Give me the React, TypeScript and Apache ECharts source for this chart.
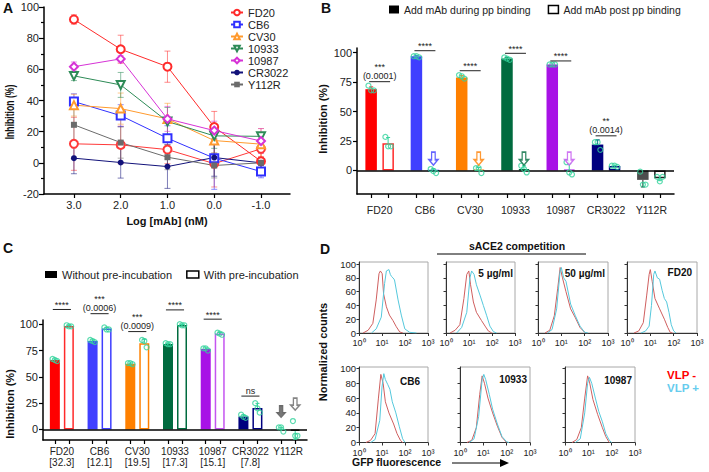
import React, { useEffect, useRef } from 'react';
import * as echarts from 'echarts';

const FONT = '"Liberation Sans", Arial, Helvetica, sans-serif';

// ---------- Panel A data ----------
const logConc = [3, 2, 1, 0, -1];
const aTicks = [3, 2, 1, 0, -1];
const aNames = ['FD20', 'CB6', 'CV30', '10933', '10987', 'CR3022', 'Y112R'];
const aFD20 = [92, 72.9, 61.7, 23, 1];
const aFD20Err = [3, 9, 10, 10, 6];
const aCB6 = [39.3, 30.3, 15.8, 3, -5.6];
const aCB6Err = [5, 7, 8, 20, 4];
const aCV30 = [37, 34.8, 28.2, 14.3, 12];
const aCV30Err = [7, 10, 10, 8, 10];
const a10933 = [55.8, 50, 26.5, 17.3, 17];
const a10933Err = [3, 8, 9, 8, 2];
const a10987 = [61.7, 66.7, 28.2, 20.7, 14];
const a10987Err = [3, 2, 8, 6, 8];
const aCR3022 = [3, 0.2, -2.4, 3.4, 0];
const aCR3022Err = [10, 10, 14, 12, 3];
const aY112R = [24.4, 13, 3.6, -1.7, 0];
const aY112RErr = [10, 10, 8, 8, 3];
const aFD20b = [12.2, 11.5, 8.5, -0.5, 9];
const aFD20bErr = [17, 12, 9, 15, 5];

// ---------- Panel B data ----------
const bCats = ['FD20', 'CB6', 'CV30', '10933', '10987', 'CR3022', 'Y112R'];
const bDuring = [69, 97, 79, 95, 90, 22, -8];
const bPost = [23, 0, 0.5, 1, 0.7, 3.7, -6.7];
const bDuringSd = [2, 0.6, 1.5, 1, 0.3, 4, 6];
const bPostSd = [5, 1.5, 2, 3, 5, 0.6, 2];
const bDuringPts = [[72, 68, 68], [97, 97, 96], [81, 80, 78], [96, 95, 94], [90, 90, 90], [24, 24, 17.5], [-1, -12, -12]];
const bPostPts = [[28.5, 20.5, 20.5], [1.2, -0.5, -2.2], [2, 2, -2.2], [4, 1.2, -1.7], [7, -1.7, -3.4], [4, 4, 3], [-5.5, -9.3, -5.5]];
const bSigGroups = [0, 1, 2, 3, 4, 5];
const bSigLevels = [75.4, 101.7, 84.7, 99.5, 93, 29.4];
const bSigStars = ['***', '****', '****', '****', '****', '**'];
const bSigP = ['(0.0001)', '', '', '', '', '(0.0014)'];
const bArrowGroups = [1, 2, 3, 4];
const bArrowLevel = [10, 10, 10, 10];

// ---------- Panel C data ----------
const cCats = ['FD20', 'CB6', 'CV30', '10933', '10987', 'CR3022', 'Y112R'];
const cIC50 = ['[32.3]', '[12.1]', '[19.5]', '[17.3]', '[15.1]', '[7.8]', ''];
const cWithout = [66, 84, 62.5, 81.3, 76.5, 12.3, 0];
const cWith = [98.4, 96, 82, 99.3, 91.2, 20.3, -1.3];
const cWithoutSd = [1, 1, 0.5, 0.5, 1, 1.5, 2];
const cWithSd = [0.5, 1, 3.8, 0.5, 1, 4.5, 8];
const cWithoutPts = [[67, 66, 65], [85, 84, 83], [63, 63, 62], [82, 81, 81], [77, 77, 75], [14, 12, 11], [2, 2, -2]];
const cWithPts = [[99, 98, 98], [97, 95, 95], [85, 84, 78], [100, 99, 99], [92, 91, 90], [25, 20, 16], [8, -6, -6]];
const cSigGroups = [0, 1, 2, 3, 4, 5];
const cSigLevels = [114, 110, 93, 113.6, 104.8, 31.7];
const cSigStars = ['****', '***', '***', '****', '****', 'ns'];
const cSigP = ['', '(0.0006)', '(0.0009)', '', '', ''];

// ---------- Panel D data (fluorescence, normalized counts) ----------
const histCtrlNeg = [[1.5, 0], [2.5, 4], [4, 14], [5.6, 48], [7.4, 86], [8.5, 90], [10.2, 86], [11.7, 57], [15.5, 38], [21, 26], [30, 18], [42, 9], [59, 1.5], [81, 0]];
const histCtrlPos = [[3.5, 0], [5.6, 6], [9.3, 23], [13, 72], [15.5, 90], [20, 92], [23, 85], [26, 82], [30, 80], [35, 77], [50, 48], [69, 26], [98, 6], [158, 1], [316, 0]];
const hist5Neg = [[1.5, 0], [2.5, 4], [4, 12], [6, 50], [8, 85], [9.8, 90], [11.7, 70], [15.5, 45], [21, 30], [35, 18], [50, 10], [69, 3], [98, 0]];
const hist5Pos = [[2.9, 0], [4.8, 8], [8, 30], [11, 80], [13, 90], [16.6, 85], [21, 70], [30, 55], [42, 40], [59, 25], [81, 10], [115, 2], [158, 0]];
const hist50Neg = [[2, 0], [3.2, 4], [5, 25], [7, 65], [8.9, 95], [11.2, 80], [15.8, 60], [25, 35], [40, 22], [63, 8], [100, 1], [126, 0]];
const hist50Pos = [[2.5, 0], [4, 5], [6.3, 35], [8.9, 90], [10, 95], [12.6, 80], [15.8, 75], [25, 42], [40, 25], [63, 10], [100, 1], [141, 0]];
const histFD20Neg = [[2, 0], [3.2, 3], [5, 15], [7, 55], [8.9, 85], [10, 92], [12, 75], [15.8, 50], [25, 35], [40, 20], [56, 8], [71, 1], [89, 0]];
const histFD20Pos = [[4, 0], [6.3, 3], [8.9, 10], [11.2, 40], [14, 85], [15.8, 90], [20, 80], [25, 78], [32, 62], [40, 50], [50, 45], [63, 30], [79, 12], [100, 3], [126, 0]];
const histCB6Neg = [[2, 0], [3.2, 3], [5, 12], [7, 60], [8.9, 92], [11.2, 80], [14, 55], [20, 40], [32, 25], [45, 12], [63, 3], [79, 0]];
const histCB6Pos = [[3.2, 0], [5, 4], [8, 30], [10, 75], [12, 93], [14, 85], [18, 78], [22, 72], [28, 55], [40, 40], [56, 22], [79, 5], [100, 0]];
const hist10933Neg = [[2, 0], [3.2, 3], [5, 20], [7, 65], [8.9, 90], [11.2, 80], [15.8, 60], [25, 40], [40, 22], [63, 7], [100, 0]];
const hist10933Pos = [[2.5, 0], [4, 5], [6.3, 35], [8.9, 85], [10.5, 92], [12.6, 85], [18, 65], [25, 45], [40, 25], [63, 8], [100, 1], [126, 0]];
const hist10987Neg = [[2, 0], [3.2, 4], [5, 20], [7, 60], [9.3, 90], [11.2, 82], [15.8, 58], [25, 38], [40, 20], [56, 8], [79, 0]];
const hist10987Pos = [[2.8, 0], [4.5, 5], [7, 40], [9.3, 80], [11.2, 88], [14, 80], [20, 60], [28, 42], [40, 28], [56, 12], [79, 3], [100, 0]];
const histTicks = [0, 20, 40, 60, 80, 100];

// ---------- styles ----------
const aColors = ['#ff2b2b', '#3030ff', '#ff9a2e', '#2e8b57', '#d633d6', '#12127a', '#6b6b6b'];
const aSymbols = ['emptyCircle', 'emptyRect', 'emptyTriangle', 'emptyTriangle', 'emptyDiamond', 'circle', 'rect'];
const aRotate = [0, 0, 0, 180, 0, 0, 0];
const barFill = ['#ff0000', '#3f3fff', '#ff8000', '#006b3f', '#a812e6', '#00007f', '#4d4d4d'];
const barOutline = ['#ff2a2a', '#3f3fff', '#ff8000', '#006b3f', '#c455f0', '#00007f', '#222222'];
const TEAL = '#33d39c';
const RED = '#cf5f5f';
const CYAN = '#55c8dc';
const SUP = ['\u2070', '\u00b9', '\u00b2', '\u00b3'];
const PAIR = 0.187;
const dotOffsets = [-0.06, 0, 0.06];
const ARROW = 'path://M3,0L7,0L7,7L10,7L5,12L0,7L3,7Z';

function errRenderA(color: string) {
  return (params: any, api: any) => {
    const x = api.value(0), y = api.value(1), e = api.value(2);
    const t = api.coord([x, y + e]);
    const b = api.coord([x, y - e]);
    const st = { stroke: color, lineWidth: 1, opacity: 0.55 };
    return {
      type: 'group',
      children: [
        { type: 'line', shape: { x1: t[0], y1: t[1], x2: b[0], y2: b[1] }, style: st },
        { type: 'line', shape: { x1: t[0] - 3, y1: t[1], x2: t[0] + 3, y2: t[1] }, style: st },
        { type: 'line', shape: { x1: b[0] - 3, y1: b[1], x2: b[0] + 3, y2: b[1] }, style: st },
      ],
    };
  };
}

function sdRender(colors: string[]) {
  return (params: any, api: any) => {
    const x = api.value(0), m = api.value(1), sd = api.value(2);
    const idx = params.dataIndex;
    const dir = m < 0 ? -1 : 1;
    const a = api.coord([x, m]);
    const b = api.coord([x, m + dir * sd]);
    const st = { stroke: colors[idx], lineWidth: 1 };
    return {
      type: 'group',
      children: [
        { type: 'line', shape: { x1: a[0], y1: a[1], x2: b[0], y2: b[1] }, style: st },
        { type: 'line', shape: { x1: b[0] - 2, y1: b[1], x2: b[0] + 2, y2: b[1] }, style: st },
      ],
    };
  };
}

function sigRender(stars: string[], ps: string[]) {
  return (params: any, api: any) => {
    const g = api.value(0), lvl = api.value(1);
    const k = params.dataIndex;
    const a = api.coord([g - PAIR, lvl]);
    const b = api.coord([g + PAIR, lvl]);
    const cx = (a[0] + b[0]) / 2;
    const ts = (text: string, y: number) => ({
      type: 'text',
      style: {
        text, x: cx, y, align: 'center', textAlign: 'center', verticalAlign: 'bottom', textVerticalAlign: 'bottom',
        fontSize: 9, fontFamily: FONT, fill: '#222',
      },
    });
    const children: any[] = [
      { type: 'line', shape: { x1: a[0] - 2, y1: a[1], x2: b[0] + 2, y2: a[1] }, style: { stroke: '#222', lineWidth: 1 } },
    ];
    if (ps[k]) {
      children.push(ts(ps[k], a[1] - 1));
      children.push(ts(stars[k], a[1] - 10));
    } else {
      children.push(ts(stars[k], a[1] - (stars[k] === 'ns' ? 1 : 0)));
    }
    return { type: 'group', children };
  };
}

function buildOption() {
  const grids: any[] = [
    { left: 44, top: 7, width: 246, height: 187 },
    { left: 357, top: 48, width: 317, height: 146 },
    { left: 43, top: 320, width: 264, height: 120 },
  ];
  const histBoxes = [
    [359, 262, 69, 71], [446, 262, 69, 71], [538, 262, 70, 71], [627, 262, 70, 71],
    [359, 367, 69, 75.5], [460, 367, 70, 75.5], [565, 367, 70, 75.5],
  ];
  histBoxes.forEach((b) => grids.push({ left: b[0], top: b[1], width: b[2], height: b[3], show: true, borderColor: '#a8a8a8', borderWidth: 1 }));
  grids.forEach((g) => { g.containLabel = false; g.outerBoundsMode = 'none'; });

  const blackLine = { onZero: false, lineStyle: { color: '#000', width: 1.5 } };
  const tickStyle = { color: '#000', width: 1.2 };
  const catIdx = bCats.map((_, i) => i);
  const pairTicks = bCats.flatMap((_, i) => [i - PAIR, i + PAIR]);
  const lbl = { color: '#222', fontFamily: FONT };

  const xAxis: any[] = [
    {
      gridIndex: 0, type: 'value', inverse: true, min: -1.62, max: 3.64, splitLine: { show: false },
      axisLine: blackLine, axisTick: { customValues: aTicks, length: 4, lineStyle: tickStyle },
      axisLabel: { ...lbl, customValues: aTicks, formatter: (v: number) => v.toFixed(1), fontSize: 11, margin: 5 },
      name: 'Log [mAb] (nM)', nameLocation: 'middle', nameGap: 21,
      nameTextStyle: { fontWeight: 'bold', fontSize: 11, color: '#111', fontFamily: FONT },
    },
    {
      gridIndex: 1, type: 'value', position: 'bottom', min: -0.5, max: 6.5, splitLine: { show: false },
      axisLine: blackLine, axisTick: { customValues: pairTicks, length: 4, lineStyle: tickStyle },
      axisLabel: { ...lbl, customValues: catIdx, formatter: (v: number) => bCats[Math.round(v)], fontSize: 10.5, margin: 10 },
    },
    { gridIndex: 1, type: 'category', position: 'top', data: bCats, show: false },
    {
      gridIndex: 2, type: 'value', position: 'bottom', min: -0.5, max: 6.5, splitLine: { show: false },
      axisLine: blackLine, axisTick: { customValues: pairTicks, length: 4, lineStyle: tickStyle },
      axisLabel: {
        ...lbl, customValues: catIdx, fontSize: 10, lineHeight: 11, margin: 6,
        formatter: (v: number) => { const i = Math.round(v); return cCats[i] + (cIC50[i] ? '\n' + cIC50[i] : ''); },
      },
    },
    { gridIndex: 2, type: 'category', position: 'top', data: cCats, show: false },
  ];
  const yAxis: any[] = [
    {
      gridIndex: 0, type: 'value', min: -20, max: 100, interval: 20, splitLine: { show: false },
      axisLine: blackLine, axisTick: { length: 5, lineStyle: tickStyle },
      minorTick: { show: true, splitNumber: 2, length: 3, lineStyle: tickStyle },
      axisLabel: { ...lbl, fontSize: 11, margin: 5 },
    },
    {
      gridIndex: 1, type: 'value', min: -20, max: 104, splitLine: { show: false },
      axisLine: blackLine, axisTick: { customValues: [0, 25, 50, 75, 100], length: 4, lineStyle: tickStyle },
      axisLabel: { ...lbl, customValues: [0, 25, 50, 75, 100], fontSize: 11, margin: 5 },
    },
    {
      gridIndex: 2, type: 'value', min: -10, max: 104, splitLine: { show: false },
      axisLine: blackLine, axisTick: { customValues: [0, 25, 50, 75, 100], length: 4, lineStyle: tickStyle },
      axisLabel: { ...lbl, customValues: [0, 25, 50, 75, 100], fontSize: 11, margin: 5 },
    },
  ];
  histBoxes.forEach((_, k) => {
    xAxis.push({
      gridIndex: 3 + k, type: 'log', logBase: 10, min: 1, max: 1000, splitLine: { show: false },
      axisLine: { onZero: false, lineStyle: { color: '#333', width: 1 } },
      axisTick: { length: 3, lineStyle: { color: '#333' } }, minorTick: { show: false },
      axisLabel: { ...lbl, fontSize: 9, margin: 5.5, formatter: (v: number) => '10' + SUP[Math.round(Math.log10(v))] },
    });
    yAxis.push({
      gridIndex: 3 + k, type: 'value', min: 0, max: k < 4 ? 103 : 102, splitLine: { show: false },
      axisLine: { onZero: false, lineStyle: { color: '#333', width: 1 } },
      axisTick: { customValues: histTicks, length: 2.5, lineStyle: { color: '#333' } },
      axisLabel: { ...lbl, show: k === 0 || k === 4, customValues: histTicks, fontSize: 9.5, margin: 3 },
    });
  });

  const series: any[] = [];

  // Panel A
  const aVals = [aFD20, aCB6, aCV30, a10933, a10987, aCR3022, aY112R];
  const aErrs = [aFD20Err, aCB6Err, aCV30Err, a10933Err, a10987Err, aCR3022Err, aY112RErr];
  const addA = (name: string, vals: number[], errs: number[], color: string, symbol: string, rot: number) => {
    series.push({
      type: 'custom', xAxisIndex: 0, yAxisIndex: 0, z: 1, silent: true,
      renderItem: errRenderA(color), data: logConc.map((x, i) => [x, vals[i], errs[i]]),
    });
    series.push({
      type: 'line', name, xAxisIndex: 0, yAxisIndex: 0, z: 3,
      data: logConc.map((x, i) => [x, vals[i]]),
      symbol, symbolRotate: rot, symbolSize: symbol.startsWith('empty') ? 8 : 6, showSymbol: true,
      itemStyle: { color, borderWidth: 1.2 }, lineStyle: { color, width: 1 },
    });
  };
  addA('FD20 (low)', aFD20b, aFD20bErr, '#ff3a3a', 'emptyCircle', 0);
  aNames.forEach((n, i) => addA(n, aVals[i], aErrs[i], aColors[i], aSymbols[i], aRotate[i]));

  // Panel B
  const markZero = {
    silent: true, symbol: 'none', label: { show: false },
    lineStyle: { color: '#000', width: 1.5, type: 'solid' }, data: [{ yAxis: 0 }],
  };
  series.push({
    type: 'bar', name: 'Add mAb during pp binding', xAxisIndex: 2, yAxisIndex: 1, barWidth: 11.5, barGap: '48%',
    itemStyle: { color: '#000' },
    data: bDuring.map((v, i) => ({ value: v, itemStyle: { color: barFill[i] } })),
    markLine: markZero,
  });
  series.push({
    type: 'bar', name: 'Add mAb post pp binding', xAxisIndex: 2, yAxisIndex: 1, barWidth: 11.5, barGap: '48%',
    itemStyle: { color: '#fff', borderColor: '#000', borderWidth: 1.5 },
    data: bPost.map((v, i) => ({ value: v, itemStyle: { color: '#fff', borderColor: barOutline[i], borderWidth: 1.5 } })),
  });
  series.push({
    type: 'custom', xAxisIndex: 1, yAxisIndex: 1, z: 4, silent: true, renderItem: sdRender(barOutline),
    data: bDuring.map((v, i) => [i - PAIR, v, bDuringSd[i]]),
  });
  series.push({
    type: 'custom', xAxisIndex: 1, yAxisIndex: 1, z: 4, silent: true, renderItem: sdRender(barOutline.map(() => TEAL)),
    data: bPost.map((v, i) => [i + PAIR, v, bPostSd[i]]),
  });
  const dotSeries = (xi: number, yi: number, pts: number[][], side: number) => ({
    type: 'scatter', xAxisIndex: xi, yAxisIndex: yi, z: 5, symbol: 'circle', symbolSize: 5,
    itemStyle: { color: 'rgba(0,0,0,0)', borderColor: TEAL, borderWidth: 1.2 },
    data: pts.flatMap((p, i) => p.map((v, j) => [i + side * PAIR + dotOffsets[j], v])),
  });
  series.push(dotSeries(1, 1, bDuringPts, -1));
  series.push(dotSeries(1, 1, bPostPts, 1));
  series.push({
    type: 'custom', xAxisIndex: 1, yAxisIndex: 1, z: 6, silent: true, renderItem: sigRender(bSigStars, bSigP),
    data: bSigGroups.map((g, k) => [g, bSigLevels[k]]),
  });
  series.push({
    type: 'scatter', xAxisIndex: 1, yAxisIndex: 1, z: 6, symbol: ARROW, symbolSize: [9, 13],
    data: bArrowGroups.map((g, k) => ({
      value: [g + PAIR, bArrowLevel[k]],
      itemStyle: { color: '#fff', borderColor: barOutline[g], borderWidth: 1.5 },
    })),
  });

  // Panel C
  series.push({
    type: 'bar', name: 'Without pre-incubation', xAxisIndex: 4, yAxisIndex: 2, barWidth: 10, barGap: '40%',
    itemStyle: { color: '#000' },
    data: cWithout.map((v, i) => ({ value: v, itemStyle: { color: barFill[i] } })),
    markLine: markZero,
  });
  series.push({
    type: 'bar', name: 'With pre-incubation', xAxisIndex: 4, yAxisIndex: 2, barWidth: 10, barGap: '40%',
    itemStyle: { color: '#fff', borderColor: '#000', borderWidth: 1.5 },
    data: cWith.map((v, i) => ({ value: v, itemStyle: { color: '#fff', borderColor: barOutline[i], borderWidth: 1.5 } })),
  });
  series.push({
    type: 'custom', xAxisIndex: 3, yAxisIndex: 2, z: 4, silent: true, renderItem: sdRender(barOutline.map(() => TEAL)),
    data: cWithout.map((v, i) => [i - PAIR, v, cWithoutSd[i]]),
  });
  series.push({
    type: 'custom', xAxisIndex: 3, yAxisIndex: 2, z: 4, silent: true, renderItem: sdRender(barOutline.map(() => TEAL)),
    data: cWith.map((v, i) => [i + PAIR, v, cWithSd[i]]),
  });
  series.push(dotSeries(3, 2, cWithoutPts, -1));
  series.push(dotSeries(3, 2, cWithPts, 1));
  series.push({
    type: 'custom', xAxisIndex: 3, yAxisIndex: 2, z: 6, silent: true, renderItem: sigRender(cSigStars, cSigP),
    data: cSigGroups.map((g, k) => [g, cSigLevels[k]]),
  });
  series.push({
    type: 'scatter', xAxisIndex: 3, yAxisIndex: 2, z: 6, symbol: ARROW, symbolSize: [9, 12],
    data: [
      { value: [6 - PAIR, 17], itemStyle: { color: '#555', borderColor: '#555', borderWidth: 1 } },
      { value: [6 + PAIR, 24], itemStyle: { color: '#fff', borderColor: '#666', borderWidth: 1.5 } },
    ],
  });

  // Panel D
  const histPairs = [
    [histCtrlNeg, histCtrlPos], [hist5Neg, hist5Pos], [hist50Neg, hist50Pos], [histFD20Neg, histFD20Pos],
    [histCB6Neg, histCB6Pos], [hist10933Neg, hist10933Pos], [hist10987Neg, hist10987Pos],
  ];
  histPairs.forEach((pair, k) => {
    pair.forEach((d, j) => {
      series.push({
        type: 'line', xAxisIndex: 5 + k, yAxisIndex: 3 + k, data: d, symbol: 'none', showSymbol: false,
        z: 2 + j, lineStyle: { color: j ? CYAN : RED, width: 1 }, silent: true,
      });
    });
  });

  const legendText = { color: '#222', fontFamily: FONT };
  const legend = [
    {
      data: aNames, orient: 'vertical', left: 230, top: 7, itemWidth: 12, itemHeight: 7, itemGap: 1, padding: 0,
      textStyle: { ...legendText, fontSize: 11 },
    },
    {
      data: [
        { name: 'Add mAb during pp binding', icon: 'rect', itemStyle: { color: '#000' } },
        { name: 'Add mAb post pp binding', icon: 'rect', itemStyle: { color: '#fff', borderColor: '#000', borderWidth: 1.5 } },
      ],
      left: 389, top: 4, itemWidth: 10, itemHeight: 8, itemGap: 17, padding: 0,
      textStyle: { ...legendText, fontSize: 10.5 },
    },
    {
      data: [
        { name: 'Without pre-incubation', icon: 'rect', itemStyle: { color: '#000' } },
        { name: 'With pre-incubation', icon: 'rect', itemStyle: { color: '#fff', borderColor: '#000', borderWidth: 1.5 } },
      ],
      left: 45, top: 269, itemWidth: 12, itemHeight: 7, itemGap: 14, padding: 0,
      textStyle: { ...legendText, fontSize: 11 },
    },
  ];

  const txt = (text: string, x: number, y: number, extra: any = {}, style: any = {}) => ({
    type: 'text', x, y, ...extra,
    style: {
      text, fontFamily: FONT, fontSize: 11, fontWeight: 'bold', fill: '#111',
      align: 'left', textAlign: 'left', verticalAlign: 'middle', textVerticalAlign: 'middle', ...style,
    },
  });
  const center = { align: 'center', textAlign: 'center' };
  const right = { align: 'right', textAlign: 'right' };
  const graphic = [
    txt('A', 3, 8, {}, { fontSize: 14 }),
    txt('B', 321, 8, {}, { fontSize: 14 }),
    txt('C', 3, 248, {}, { fontSize: 14 }),
    txt('D', 320, 249, {}, { fontSize: 14 }),
    txt('Inhibition (%)', 10, 112, { rotation: Math.PI / 2, scaleX: 0.72 }, { ...center, fontSize: 12 }),
    txt('Inhibition (%)', 323, 119, { rotation: Math.PI / 2 }, { ...center, fontSize: 11 }),
    txt('Inhibition (%)', 10, 404, { rotation: Math.PI / 2 }, { ...center, fontSize: 11 }),
    txt('sACE2 competition', 517, 246, {}, { ...center, fontSize: 10.5 }),
    { type: 'line', shape: { x1: 437, y1: 254, x2: 586, y2: 254 }, style: { stroke: '#000', lineWidth: 1 } },
    txt('Normalized counts', 323, 352, { rotation: Math.PI / 2 }, { ...center, fontSize: 11 }),
    txt('GFP fluorescence', 352, 462, {}, { fontSize: 10.5 }),
    { type: 'line', shape: { x1: 452, y1: 463, x2: 502, y2: 463 }, style: { stroke: '#000', lineWidth: 1 } },
    { type: 'polygon', shape: { points: [[500, 459], [509, 463], [500, 467]] }, style: { fill: '#000' } },
    txt('VLP -', 667, 375, {}, { fontSize: 11.5, fill: '#ff0000' }),
    txt('VLP +', 667, 388, {}, { fontSize: 11.5, fill: '#66ccee' }),
    txt('5 \u00b5g/ml', 513, 273, {}, { ...right, fontSize: 10 }),
    txt('50 \u00b5g/ml', 605, 273, {}, { ...right, fontSize: 10 }),
    txt('FD20', 692, 272, {}, { ...right, fontSize: 10 }),
    txt('CB6', 420, 381, {}, { ...right, fontSize: 10 }),
    txt('10933', 527, 379, {}, { ...right, fontSize: 10 }),
    txt('10987', 632, 380, {}, { ...right, fontSize: 10 }),
  ];

  return {
    animation: false,
    backgroundColor: '#fff',
    textStyle: { fontFamily: FONT },
    grid: grids,
    xAxis,
    yAxis,
    legend,
    series,
    graphic,
  };
}

export default function App() {
  const ref = useRef<HTMLDivElement>(null);
  useEffect(() => {
    document.body.style.margin = '0';
    const chart = echarts.init(ref.current as HTMLDivElement, null, { renderer: 'svg' });
    chart.setOption(buildOption() as any);
    return () => chart.dispose();
  }, []);
  return <div ref={ref} style={{ width: 709, height: 472, background: '#fff' }} />;
}
